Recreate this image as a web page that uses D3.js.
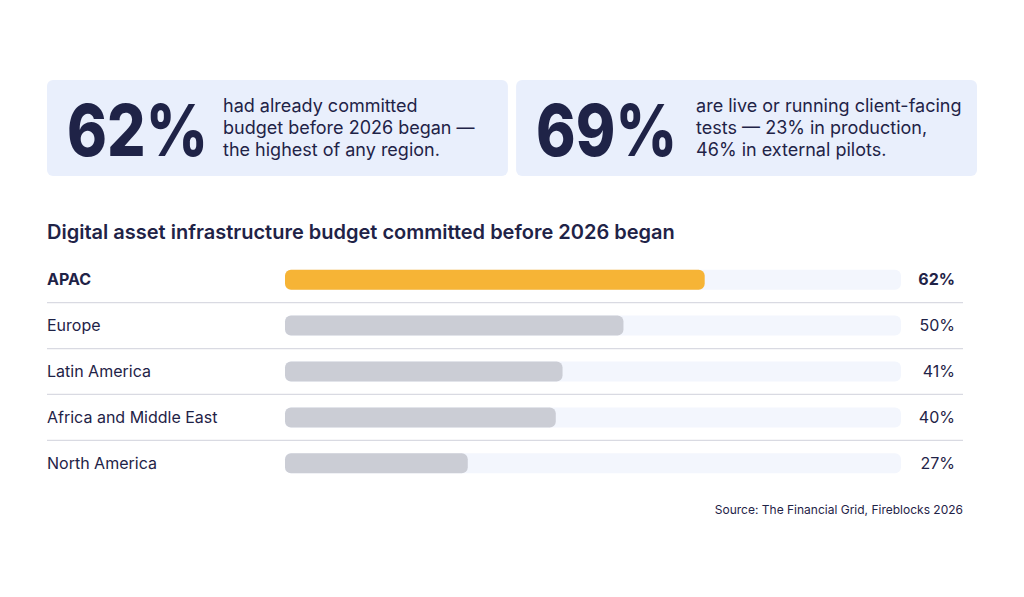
<!DOCTYPE html>
<html lang="en">
<head>
    <meta charset="UTF-8">
    <title>Budget committed before 2026</title>
    <script src="https://cdnjs.cloudflare.com/ajax/libs/d3/7.8.5/d3.min.js"></script>
    <style>
        body { margin: 0; background: #fff; }
        text { font-family: Inter, "Noto Sans", sans-serif; fill: #1f2347; }
    </style>
</head>
<body>
<svg id="chart" width="1024" height="597"></svg>
<script>
    var regions = ["APAC", "Europe", "Latin America", "Africa and Middle East", "North America"];
    var committed = [62, 50, 41, 40, 27];
    var statNumbers = ["62%", "69%"];
    var statLines = [
        ["had already committed", "budget before 2026 began \u2014", "the highest of any region."],
        ["are live or running client-facing", "tests \u2014 23% in production,", "46% in external pilots."]
    ];
    var title = "Digital asset infrastructure budget committed before 2026 began";
    var source = "Source: The Financial Grid, Fireblocks 2026";

    var svg = d3.select("#chart");

    // stat cards
    var cardX = d3.scaleBand().domain(d3.range(statNumbers.length)).range([47, 977]).paddingInner(0.0175);

    var cards = svg.selectAll(".card")
            .data(statNumbers)
            .enter().append("g")
            .attr("class", "card")
            .attr("transform", function (d, i) { return "translate(" + cardX(i) + ",80)"; });

    cards.append("rect")
            .attr("width", cardX.bandwidth())
            .attr("height", 96)
            .attr("rx", 6)
            .attr("fill", "#e9effc");

    // big number squeezed to the width it has in the original
    cards.append("text")
            .attr("x", 20)
            .attr("y", 76)
            .attr("font-size", 72)
            .attr("font-weight", 800)
            .attr("textLength", 141)
            .attr("lengthAdjust", "spacingAndGlyphs")
            .text(function (d) { return d; });

    cards.each(function (d, i) {
        d3.select(this).selectAll(".line")
                .data(statLines[i])
                .enter().append("text")
                .attr("class", "line")
                .attr("x", 176 + (i === 1 ? 4 : 0))
                .attr("y", function (l, j) { return 32 + j * 22; })
                .attr("font-size", 18)
                .attr("fill", "#2a2e4d")
                .text(function (l) { return l; });
    });

    // title
    svg.append("text")
            .attr("x", 47)
            .attr("y", 239)
            .attr("font-size", 20)
            .attr("font-weight", 600)
            .text(title);

    // bars
    var y = d3.scaleBand().domain(regions).range([259, 484]).paddingInner(0.1);
    var x = d3.scaleLinear().domain([0, 91]).range([285, 901]);
    var barH = 20;

    var rows = svg.selectAll(".row")
            .data(regions)
            .enter().append("g")
            .attr("class", "row")
            .attr("transform", function (d) { return "translate(0," + (y(d) + y.bandwidth() / 2) + ")"; });

    rows.filter(function (d, i) { return i < regions.length - 1; })
            .append("line")
            .attr("x1", 47).attr("x2", 963)
            .attr("y1", y.step() / 2).attr("y2", y.step() / 2)
            .attr("stroke", "#d9dae2")
            .attr("stroke-width", 1.2);

    rows.append("text")
            .attr("x", 47)
            .attr("dy", "0.35em")
            .attr("font-size", 16)
            .attr("font-weight", function (d, i) { return i === 0 ? 700 : 400; })
            .text(function (d) { return d; });

    rows.append("rect")
            .attr("x", x(0))
            .attr("y", -barH / 2)
            .attr("width", x.range()[1] - x(0))
            .attr("height", barH)
            .attr("rx", 6)
            .attr("fill", "#f3f6fd");

    rows.append("rect")
            .attr("x", x(0))
            .attr("y", -barH / 2)
            .attr("width", function (d, i) { return x(committed[i]) - x(0); })
            .attr("height", barH)
            .attr("rx", 6)
            .attr("fill", function (d, i) { return i === 0 ? "#f6b436" : "#cbcdd5"; });

    rows.append("text")
            .attr("x", 955)
            .attr("dy", "0.35em")
            .attr("text-anchor", "end")
            .attr("font-size", 16)
            .attr("font-weight", function (d, i) { return i === 0 ? 700 : 400; })
            .text(function (d, i) { return committed[i] + "%"; });

    svg.append("text")
            .attr("x", 963)
            .attr("y", 514)
            .attr("text-anchor", "end")
            .attr("font-size", 12)
            .attr("fill", "#3a3d55")
            .text(source);
</script>
</body>
</html>
